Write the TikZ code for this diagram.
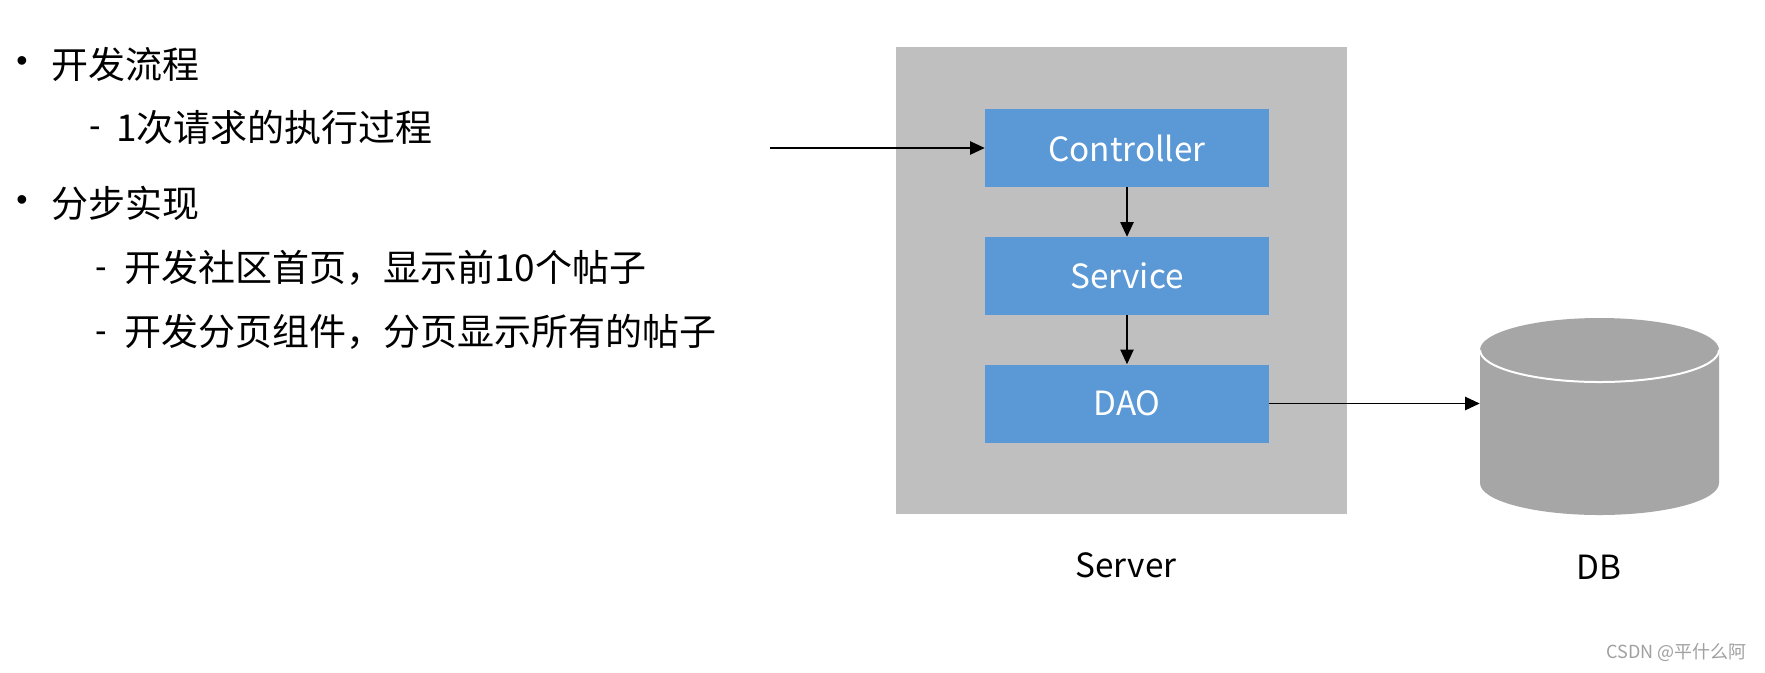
\documentclass[tikz,border=0pt]{standalone}
\usepackage{fontspec}
\setmainfont{Noto Sans CJK SC}
\newfontfamily\markfont{Liberation Sans}
\usetikzlibrary{arrows.meta}
\definecolor{srvgray}{HTML}{BFBFBF}
\definecolor{boxblue}{HTML}{5B98D6}
\definecolor{dbgray}{HTML}{A6A6A6}
\definecolor{wmgray}{HTML}{A0A0A0}
\begin{document}
\begin{tikzpicture}[x=0.75pt,y=-0.75pt,
  txt/.style={anchor=west,inner sep=0pt,font=\fontsize{27.75}{33}\selectfont},
  bul/.style={inner sep=0pt,font=\markfont\fontsize{24}{28}\selectfont},
  dsh/.style={inner sep=0pt,font=\markfont\fontsize{26}{30}\selectfont},
  layer/.style={fill=boxblue,text=white,minimum width=213pt,minimum height=58.5pt,inner sep=0pt,font=\fontsize{25}{30}\selectfont},
  lbl/.style={inner sep=0pt,font=\fontsize{25}{30}\selectfont},
  conn/.style={line width=1pt,-{Triangle[length=11pt,width=10pt]}}]
\useasboundingbox[fill=white] (0,0) rectangle (1765,672);
% left text
\node[bul] (b1) at (22,64) {•};
\node[txt] (t1) at (51,64) {开发流程};
\node[dsh] (d2) at (95,132) {-};
\node[txt] (t2) at (116,127) {1次请求的执行过程};
\node[bul] (b3) at (22,203) {•};
\node[txt] (t3) at (51,203) {分步实现};
\node[dsh] (d4) at (101,273) {-};
\node[txt] (t4) at (124,268) {开发社区首页，显示前10个帖子};
\node[dsh] (d5) at (101,337) {-};
\node[txt] (t5) at (124,332) {开发分页组件，分页显示所有的帖子};
% server
\node[fill=srvgray,minimum width=338.25pt,minimum height=350.25pt,inner sep=0pt] (server) at (1121.5,280.5) {};
\node[layer] (ctrl) at (1127,148) {Controller};
\node[layer] (svc) at (1127,276) {Service};
\node[layer] (dao) at (1127,403.5) {DAO};
\node[lbl] (srvlbl) at (1126,565) {Server};
% database cylinder
\node[minimum width=179.25pt,minimum height=147.75pt,inner sep=0pt] (db) at (1599.5,416.5) {};
\fill[dbgray] (1480,350) -- (1480,483) arc[start angle=180,end angle=360,x radius=89.625pt,y radius=24pt] -- (1719,350) -- cycle;
\fill[dbgray] (1599.5,350) ellipse[x radius=89.625pt,y radius=24pt];
\draw[white,line width=1.5pt] (1480,350) arc[start angle=180,end angle=360,x radius=89.625pt,y radius=24pt];
\node[lbl] (dblbl) at (1599,567) {DB};
% connectors
\coordinate (in) at (770,148);
\draw[conn] (in) -- (ctrl.west);
\draw[conn] (ctrl.south) -- (svc.north);
\draw[conn] (svc.south) -- (dao.north);
\draw[conn] (dao.east) -- (dao.east -| db.west);
% watermark
\node[anchor=east,inner sep=0pt,text=wmgray,font=\fontsize{13.5}{16}\selectfont] (wm) at (1747,653) {CSDN @平什么阿};
\end{tikzpicture}
\end{document}
